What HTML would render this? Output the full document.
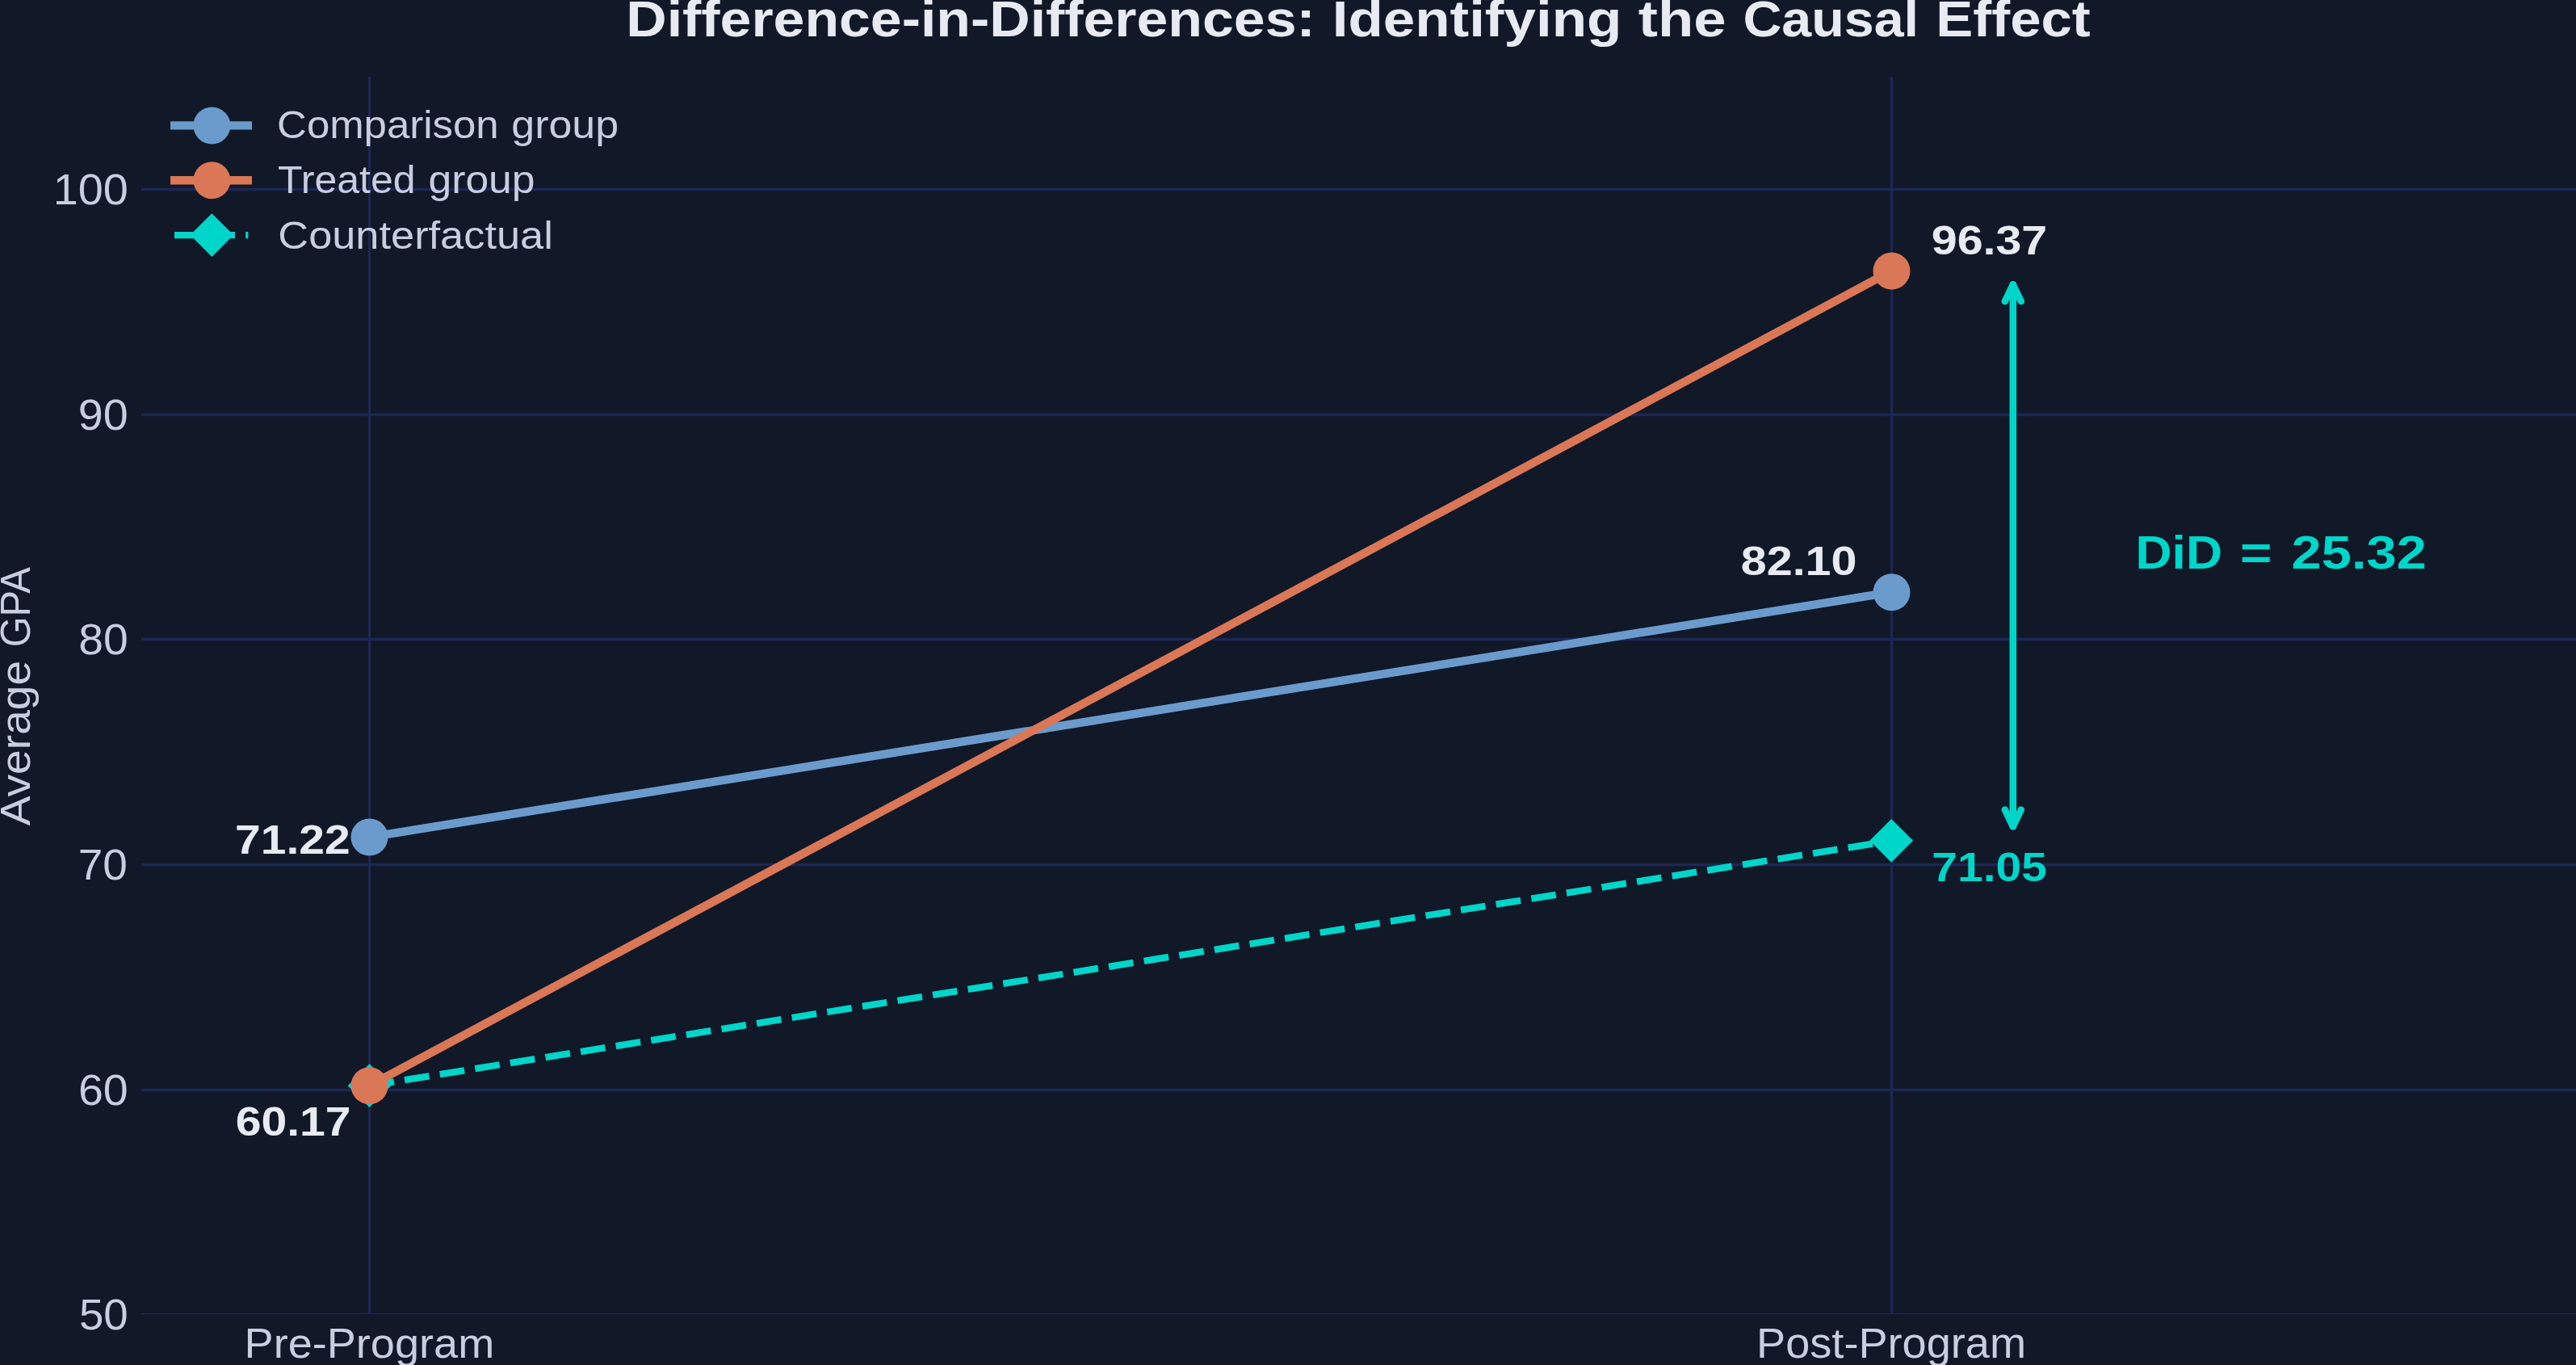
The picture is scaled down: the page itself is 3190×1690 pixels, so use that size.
<!DOCTYPE html>
<html lang="en">
<head>
<meta charset="utf-8">
<title>Difference-in-Differences: Identifying the Causal Effect</title>
<style>
html,body{margin:0;padding:0;background:#111827;width:3190px;height:1690px;overflow:hidden}
svg{display:block}
text{font-family:"Liberation Sans",sans-serif}
</style>
</head>
<body>
<svg width="3190" height="1690" viewBox="0 0 3190 1690">
<rect x="0" y="0" width="3190" height="1690" fill="#111827"/>
<g stroke="#1c2756" stroke-width="3.33" fill="none">
<line x1="175" y1="234.5" x2="3190" y2="234.5"/>
<line x1="175" y1="513.5" x2="3190" y2="513.5"/>
<line x1="175" y1="791.5" x2="3190" y2="791.5"/>
<line x1="175" y1="1070.5" x2="3190" y2="1070.5"/>
<line x1="175" y1="1349.5" x2="3190" y2="1349.5"/>
<line x1="457.5" y1="95.2" x2="457.5" y2="1627.2"/>
<line x1="2342.5" y1="95.2" x2="2342.5" y2="1627.2"/>
</g>
<rect x="175" y="1625.83" width="3015" height="1.37" fill="#1c2756"/>
<line x1="457.5" y1="1344.2" x2="2342.5" y2="1040.85" stroke="#00d5c9" stroke-width="8.33" stroke-dasharray="30.83 13.33"/>
<path d="M457.5 1317.35L484.35 1344.2L457.5 1371.05L430.65 1344.2Z" fill="#00d5c9"/>
<path d="M2342.2 1014.00L2369.05 1040.85L2342.2 1067.70L2315.35 1040.85Z" fill="#00d5c9"/>
<line x1="457.5" y1="1036.4" x2="2342.5" y2="733.2" stroke="#6a9bcc" stroke-width="10.4"/>
<circle cx="457.5" cy="1036.4" r="23" fill="#6a9bcc"/><circle cx="2342.5" cy="733.2" r="23" fill="#6a9bcc"/>
<line x1="457.5" y1="1344.2" x2="2342.5" y2="335.45" stroke="#d97757" stroke-width="10.4"/>
<circle cx="457.5" cy="1344.2" r="23" fill="#d97757"/><circle cx="2342.5" cy="335.45" r="23" fill="#d97757"/>
<g stroke="#00d5c9" stroke-width="8.5" fill="none" stroke-linecap="round" stroke-linejoin="round">
<line x1="2492.8" y1="352.3" x2="2492.8" y2="1023.3"/>
<path d="M2482.8 373.1L2492.8 352.3L2502.8 373.1"/>
<path d="M2482.8 1002.5L2492.8 1023.3L2502.8 1002.5"/>
</g>
<line x1="211.0" y1="155.4" x2="312.0" y2="155.4" stroke="#6a9bcc" stroke-width="10.4"/>
<circle cx="262.35" cy="155.4" r="23" fill="#6a9bcc"/>
<line x1="211.0" y1="223.3" x2="312.0" y2="223.3" stroke="#d97757" stroke-width="10.4"/>
<circle cx="262.35" cy="223.3" r="23" fill="#d97757"/>
<path d="M216.0 291.1H246.8M260.2 291.1H291.0M304.2 291.1H307.4" stroke="#00d5c9" stroke-width="8.33" fill="none"/>
<path d="M262.35 264.25L289.20 291.1L262.35 317.95L235.50 291.1Z" fill="#00d5c9"/>
<g font-family="Liberation Sans, sans-serif">
<text transform="translate(775.25,44.80) scale(0.6983,0.6210)" font-size="100" font-weight="bold" fill="#e8eaf2">Difference-in-Differences:</text>
<text transform="translate(1649.72,44.80) scale(0.7095,0.6210)" font-size="100" font-weight="bold" fill="#e8eaf2">Identifying</text>
<text transform="translate(2028.74,44.80) scale(0.7255,0.6210)" font-size="100" font-weight="bold" fill="#e8eaf2">the</text>
<text transform="translate(2158.43,44.80) scale(0.6635,0.6210)" font-size="100" font-weight="bold" fill="#e8eaf2">Causal</text>
<text transform="translate(2397.31,44.80) scale(0.6894,0.6210)" font-size="100" font-weight="bold" fill="#e8eaf2">Effect</text>
<text transform="translate(343.12,171.10) scale(0.5093,0.4812)" font-size="100" fill="#c8cde0">Comparison</text>
<text transform="translate(633.30,171.10) scale(0.5192,0.4812)" font-size="100" fill="#c8cde0">group</text>
<text transform="translate(344.09,238.90) scale(0.5004,0.4812)" font-size="100" fill="#c8cde0">Treated</text>
<text transform="translate(530.46,238.90) scale(0.5166,0.4812)" font-size="100" fill="#c8cde0">group</text>
<text transform="translate(344.35,307.90) scale(0.5236,0.4812)" font-size="100" fill="#c8cde0">Counterfactual</text>
<text transform="translate(65.74,253.30) scale(0.5576,0.5280)" font-size="100" fill="#c8cde0">100</text>
<text transform="translate(96.85,532.30) scale(0.5566,0.5280)" font-size="100" fill="#c8cde0">90</text>
<text transform="translate(97.30,810.30) scale(0.5524,0.5280)" font-size="100" fill="#c8cde0">80</text>
<text transform="translate(96.79,1089.30) scale(0.5497,0.5280)" font-size="100" fill="#c8cde0">70</text>
<text transform="translate(96.97,1368.30) scale(0.5554,0.5280)" font-size="100" fill="#c8cde0">60</text>
<text transform="translate(97.90,1646.30) scale(0.5468,0.5280)" font-size="100" fill="#c8cde0">50</text>
<text transform="translate(302.58,1681.25) scale(0.5411,0.5250)" font-size="100" fill="#c8cde0">Pre-Program</text>
<text transform="translate(2175.07,1681.25) scale(0.5415,0.5250)" font-size="100" fill="#c8cde0">Post-Program</text>
<text transform="translate(37.40,1022.10) rotate(-90) translate(-0.19,0) scale(0.5518,0.5250)" font-size="100" fill="#c8cde0">Average</text>
<text transform="translate(37.40,1022.10) rotate(-90) translate(220.74,0) scale(0.4867,0.5250)" font-size="100" fill="#c8cde0">GPA</text>
<text transform="translate(291.07,1056.90) scale(0.5702,0.4920)" font-size="100" font-weight="bold" fill="#e8eaf2">71.22</text>
<text transform="translate(291.67,1406.25) scale(0.5712,0.4920)" font-size="100" font-weight="bold" fill="#e8eaf2">60.17</text>
<text transform="translate(2391.76,314.75) scale(0.5734,0.4920)" font-size="100" font-weight="bold" fill="#e8eaf2">96.37</text>
<text transform="translate(2155.68,712.25) scale(0.5751,0.4920)" font-size="100" font-weight="bold" fill="#e8eaf2">82.10</text>
<text transform="translate(2392.32,1091.00) scale(0.5701,0.4920)" font-size="100" font-weight="bold" fill="#00d5c9">71.05</text>
<text transform="translate(2644.44,703.50) scale(0.6249,0.5731)" font-size="100" font-weight="bold" fill="#00d5c9">DiD</text>
<text transform="translate(2774.09,703.50) scale(0.6763,0.5731)" font-size="100" font-weight="bold" fill="#00d5c9">=</text>
<text transform="translate(2837.44,703.50) scale(0.6695,0.5731)" font-size="100" font-weight="bold" fill="#00d5c9">25.32</text>
</g>
</svg>
</body>
</html>
